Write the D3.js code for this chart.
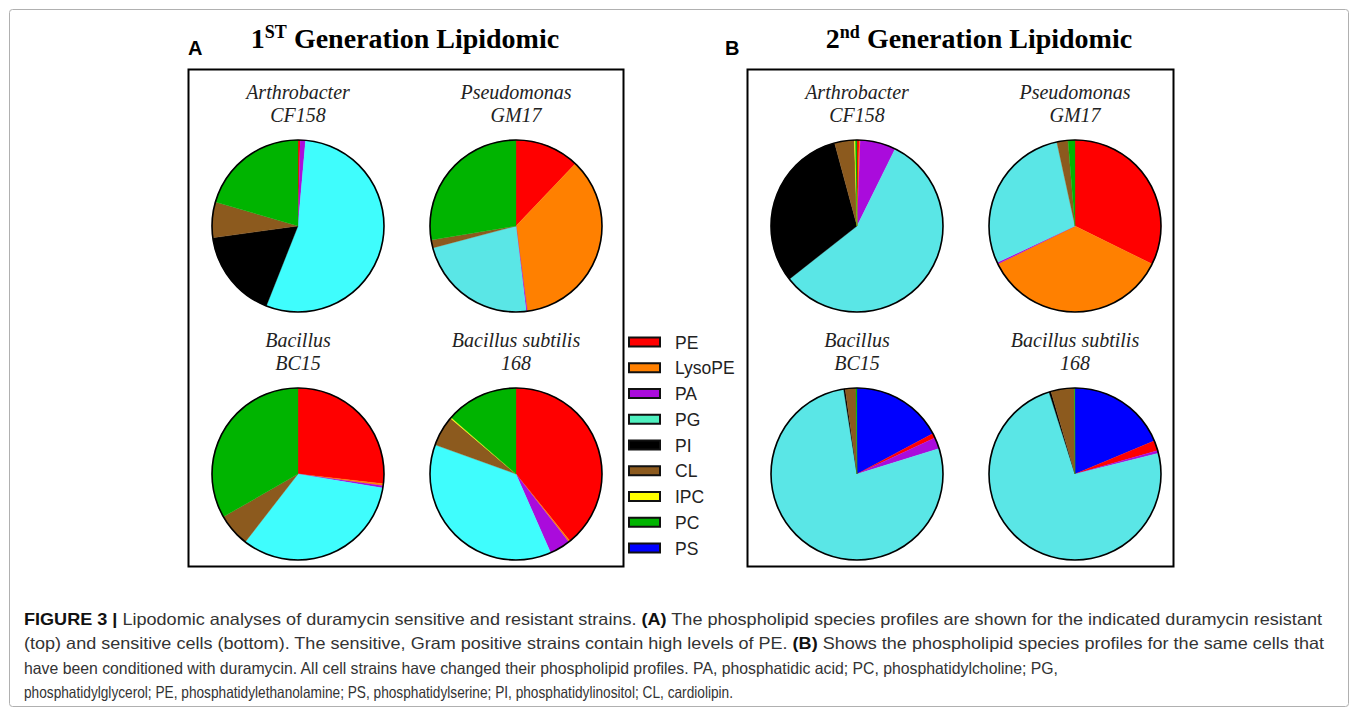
<!DOCTYPE html>
<html>
<head>
<meta charset="utf-8">
<script src="https://cdn.jsdelivr.net/npm/d3@7"></script>
<style>
  body { margin: 0; background: #fff; }
  svg { display: block; }
</style>
</head>
<body>
<div id="vis"></div>
<script>
// lipid classes, legend order
const lipids = ["PE", "LysoPE", "PA", "PG", "PI", "CL", "IPC", "PC", "PS"];
// order the slices go round the pie (clockwise from 12 o'clock)
const sliceOrder = ["PS", "PE", "LysoPE", "PA", "PG", "PI", "CL", "IPC", "PC"];

// percentages, in legend order: PE, LysoPE, PA, PG, PI, CL, IPC, PC, PS
const gen1Arthrobacter = [0.4, 0, 1.0, 54.6, 16.8, 6.7, 0, 20.5, 0];
const gen1Pseudomonas  = [12.1, 35.8, 0.2, 22.8, 0, 1.5, 0, 27.6, 0];
const gen1BacillusBC15 = [26.8, 0.4, 0.4, 32.9, 0, 6.2, 0, 33.3, 0];
const gen1Subtilis168  = [39.2, 0.3, 3.9, 37.1, 0, 5.7, 0.2, 13.6, 0];

const gen2Arthrobacter = [0.4, 0.2, 6.7, 57.1, 31.4, 3.7, 0.2, 0.3, 0];
const gen2Pseudomonas  = [32.3, 35.4, 0.3, 28.6, 0, 2.1, 0, 1.3, 0];
const gen2BacillusBC15 = [0.9, 0, 2.1, 77.3, 0.3, 2.0, 0, 0.2, 17.2];
const gen2Subtilis168  = [1.9, 0, 0.5, 74.0, 0.4, 4.4, 0, 0.1, 18.7];

const strainGenus = ["Arthrobacter", "Pseudomonas", "Bacillus", "Bacillus subtilis"];
const strainId = ["CF158", "GM17", "BC15", "168"];

const captionLines = [
  [["FIGURE 3 | ", true], ["Lipodomic analyses of duramycin sensitive and resistant strains. ", false], ["(A)", true], [" The phospholipid species profiles are shown for the indicated duramycin resistant", false]],
  [["(top) and sensitive cells (bottom). The sensitive, Gram positive strains contain high levels of PE. ", false], ["(B)", true], [" Shows the phospholipid species profiles for the same cells that", false]],
  [["have been conditioned with duramycin. All cell strains have changed their phospholipid profiles. PA, phosphatidic acid; PC, phosphatidylcholine; PG,", false]],
  [["phosphatidylglycerol; PE, phosphatidylethanolamine; PS, phosphatidylserine; PI, phosphatidylinositol; CL, cardiolipin.", false]]
];

// colours
const lipidColor = {
  PE: "#ff0000", LysoPE: "#ff8000", PA: "#aa0bdc", PG: "#4ff0bf",
  PI: "#000000", CL: "#8c5a1e", IPC: "#ffff00", PC: "#00b400", PS: "#0000ff"
};
const brightCyan = "#3ffdfd";
const softCyan = "#5ae6e6";

const width = 1358, height = 709;
const svg = d3.select("#vis").append("svg")
  .attr("width", width)
  .attr("height", height);

// outer figure frame
svg.append("rect")
  .attr("x", 9.5).attr("y", 9.5)
  .attr("width", 1339).attr("height", 697)
  .attr("rx", 3)
  .attr("fill", "none")
  .attr("stroke", "#b0b0b0")
  .attr("stroke-width", 1);

const panels = [
  { letter: "A", x0: 188, x1: 623, titleNum: "1", titleSup: "ST", titleCx: 405, pg: [brightCyan, softCyan, brightCyan, brightCyan],
    data: [gen1Arthrobacter, gen1Pseudomonas, gen1BacillusBC15, gen1Subtilis168] },
  { letter: "B", x0: 747, x1: 1173, titleNum: "2", titleSup: "nd", titleCx: 979, pg: [softCyan, softCyan, softCyan, softCyan],
    data: [gen2Arthrobacter, gen2Pseudomonas, gen2BacillusBC15, gen2Subtilis168] }
];
const boxTop = 69, boxBottom = 566;
const radius = 86;

const pie = d3.pie().sort(null).value(d => d.value);
const arc = d3.arc().innerRadius(0).outerRadius(radius);

const rowY = d3.scalePoint().domain([0, 1]).range([boxTop + 157, boxTop + 405]);

panels.forEach(p => {
  const g = svg.append("g");

  g.append("rect")
    .attr("x", p.x0 + 0.5).attr("y", boxTop + 0.5)
    .attr("width", p.x1 - p.x0).attr("height", boxBottom - boxTop)
    .attr("fill", "none")
    .attr("stroke", "#000")
    .attr("stroke-width", 2);

  g.append("text")
    .attr("x", p.x0 - (p.letter === "A" ? 0 : 22))
    .attr("y", 55)
    .attr("font-family", "Liberation Sans, Arial, sans-serif")
    .attr("font-weight", "bold")
    .attr("font-size", 20)
    .text(p.letter);

  const title = g.append("text")
    .attr("x", p.titleCx)
    .attr("y", 48)
    .attr("text-anchor", "middle")
    .attr("font-family", "Liberation Serif, Times New Roman, serif")
    .attr("font-weight", "bold")
    .attr("font-size", 28);
  title.append("tspan").text(p.titleNum);
  title.append("tspan").attr("dy", -10).attr("font-size", 18).text(p.titleSup);
  title.append("tspan").attr("dy", 10).text(" Generation Lipidomic");

  const colX = d3.scalePoint().domain([0, 1]).range([p.x0 + 110, p.x0 + 328]);

  p.data.forEach((vals, i) => {
    const cx = colX(i % 2), cy = rowY(Math.floor(i / 2));
    const rows = sliceOrder.map(k => ({ key: k, value: vals[lipids.indexOf(k)] }));
    const pg = p.pg[i];

    const pg_ = g.append("g").attr("transform", `translate(${cx},${cy})`);
    pg_.selectAll("path")
      .data(pie(rows).filter(d => d.value > 0))
      .enter()
      .append("path")
      .attr("d", arc)
      .attr("fill", d => d.data.key === "PG" ? pg : lipidColor[d.data.key])
      .attr("stroke", d => d.data.key === "PG" ? pg : lipidColor[d.data.key])
      .attr("stroke-width", 0.3);

    pg_.append("circle")
      .attr("r", radius)
      .attr("fill", "none")
      .attr("stroke", "#000")
      .attr("stroke-width", 1.6);

    const lab = g.append("text")
      .attr("x", cx)
      .attr("text-anchor", "middle")
      .attr("font-family", "Liberation Serif, Times New Roman, serif")
      .attr("font-style", "italic")
      .attr("font-size", 20)
      .attr("fill", "#222");
    lab.append("tspan").attr("x", cx).attr("y", cy - 127).text(strainGenus[i]);
    lab.append("tspan").attr("x", cx).attr("y", cy - 104).text(strainId[i]);
  });
});

// legend
const legendY = d3.scalePoint().domain(lipids).range([342, 548]);
const legend = svg.append("g").selectAll("g")
  .data(lipids)
  .enter()
  .append("g")
  .attr("transform", d => `translate(628,${legendY(d)})`);

legend.append("rect")
  .attr("x", 1).attr("y", -4.5)
  .attr("width", 31).attr("height", 9)
  .attr("fill", d => lipidColor[d])
  .attr("stroke", "#111")
  .attr("stroke-width", 2);

legend.append("text")
  .attr("x", 47)
  .attr("y", 6.5)
  .attr("font-family", "Liberation Sans, Arial, sans-serif")
  .attr("font-size", 17.5)
  .attr("fill", "#222")
  .text(d => d);

// caption
const captionWidths = [1298, 1300, 1034, 709];
const caption = svg.append("g")
  .attr("font-family", "Liberation Sans, Arial, sans-serif")
  .attr("font-size", 16.5)
  .attr("fill", "#333");

captionLines.forEach((parts, i) => {
  const t = caption.append("text")
    .attr("x", 24)
    .attr("y", 625 + i * 24.3)
    .attr("textLength", captionWidths[i])
    .attr("lengthAdjust", "spacingAndGlyphs");
  parts.forEach(([str, bold]) => {
    t.append("tspan")
      .attr("font-weight", bold ? "bold" : null)
      .attr("fill", bold ? "#111" : null)
      .text(str);
  });
});
</script>
</body>
</html>
